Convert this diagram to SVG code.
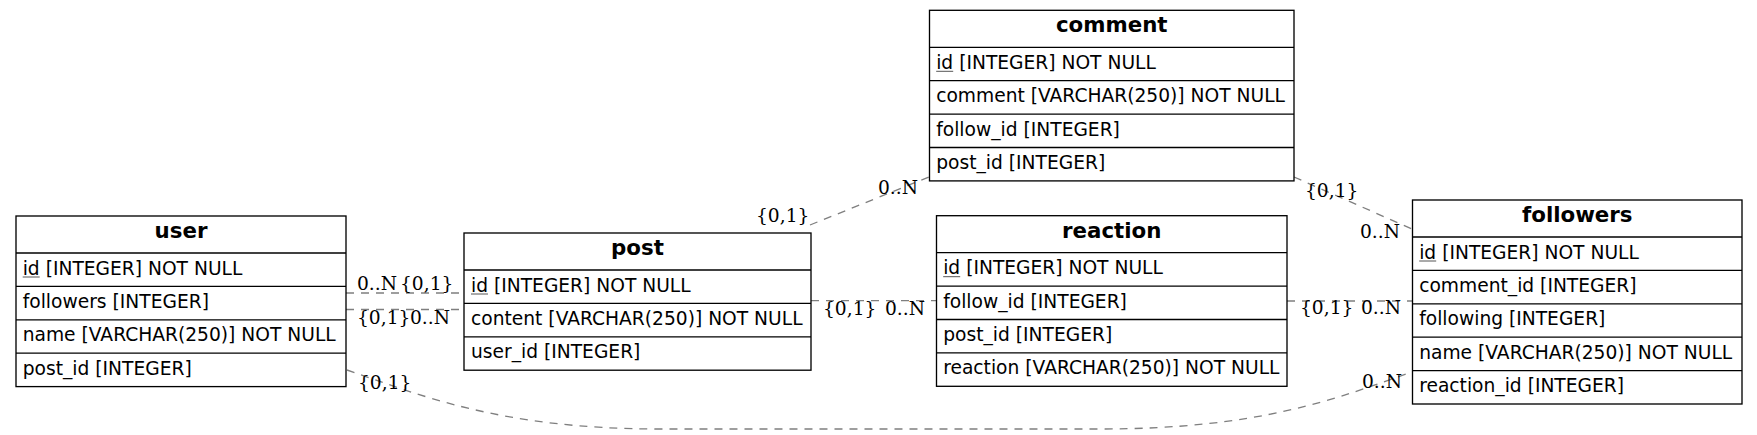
<svg xmlns="http://www.w3.org/2000/svg" width="1757" height="435" viewBox="0 0 1757 435">
<style>
.box{fill:#fff;stroke:#000;stroke-width:1.33}
.sep{stroke:#000;stroke-width:1.33}
.hd{font-family:"DejaVu Sans",sans-serif;font-weight:bold;font-size:21.33px;text-anchor:middle;fill:#000}
.rw{font-family:"DejaVu Sans",sans-serif;font-size:18.67px;fill:#000}
.ul{stroke:#555;stroke-width:1}
.edge{fill:none;stroke:#7f7f7f;stroke-width:1.33;stroke-dasharray:8,7}
.lb{font-family:"DejaVu Serif",serif;font-size:18.67px;fill:#000}
</style>
<rect width="1757" height="435" fill="#fff"/>
<g id="connectors">
<path class="edge" d="M346,293 H464"/>
<path class="edge" d="M346,309.5 H464"/>
<path class="edge" d="M810,225 L929,177"/>
<path class="edge" d="M811,300.7 H936.5"/>
<path class="edge" d="M1287,301 H1412.5"/>
<path class="edge" d="M1294,177 L1412,229"/>
<path class="edge" d="M347,370 C420,395 500,429 660,429 L1100,429 C1260,429 1335,399 1412,372"/>
<text class="lb" x="357" y="290">0..N</text>
<text class="lb" x="400" y="290">{0,1}</text>
<text class="lb" x="357" y="323.5">{0,1}</text>
<text class="lb" x="410" y="323.5">0..N</text>
<text class="lb" x="358" y="389">{0,1}</text>
<text class="lb" x="1362" y="388">0..N</text>
<text class="lb" x="756" y="222">{0,1}</text>
<text class="lb" x="878" y="194">0..N</text>
<text class="lb" x="823" y="315">{0,1}</text>
<text class="lb" x="885" y="315">0..N</text>
<text class="lb" x="1300" y="314">{0,1}</text>
<text class="lb" x="1361" y="314">0..N</text>
<text class="lb" x="1305" y="197">{0,1}</text>
<text class="lb" x="1360" y="238">0..N</text>
</g>
<g id="user">
<rect class="box" x="16" y="216" width="330" height="170.6"/>
<line class="sep" x1="16" y1="253" x2="346" y2="253"/>
<line class="sep" x1="16" y1="286.4" x2="346" y2="286.4"/>
<line class="sep" x1="16" y1="319.8" x2="346" y2="319.8"/>
<line class="sep" x1="16" y1="353.2" x2="346" y2="353.2"/>
<text class="hd" x="181" y="238">user</text>
<text class="rw" x="22.7" y="274.5">id [INTEGER] NOT NULL</text>
<line class="ul" x1="22.7" y1="277" x2="39.7" y2="277"/>
<text class="rw" x="22.7" y="307.9">followers [INTEGER]</text>
<text class="rw" x="22.7" y="341.3">name [VARCHAR(250)] NOT NULL</text>
<text class="rw" x="22.7" y="374.7">post_id [INTEGER]</text>
</g>
<g id="post">
<rect class="box" x="464" y="233" width="347" height="137.2"/>
<line class="sep" x1="464" y1="270" x2="811" y2="270"/>
<line class="sep" x1="464" y1="303.4" x2="811" y2="303.4"/>
<line class="sep" x1="464" y1="336.8" x2="811" y2="336.8"/>
<text class="hd" x="637.5" y="255">post</text>
<text class="rw" x="471" y="291.5">id [INTEGER] NOT NULL</text>
<line class="ul" x1="471" y1="294" x2="488" y2="294"/>
<text class="rw" x="471" y="324.9">content [VARCHAR(250)] NOT NULL</text>
<text class="rw" x="471" y="358.3">user_id [INTEGER]</text>
</g>
<g id="comment">
<rect class="box" x="929.5" y="10.3" width="364.5" height="170.6"/>
<line class="sep" x1="929.5" y1="47.3" x2="1294" y2="47.3"/>
<line class="sep" x1="929.5" y1="80.7" x2="1294" y2="80.7"/>
<line class="sep" x1="929.5" y1="114.1" x2="1294" y2="114.1"/>
<line class="sep" x1="929.5" y1="147.5" x2="1294" y2="147.5"/>
<text class="hd" x="1111.75" y="32.3">comment</text>
<text class="rw" x="936.2" y="68.8">id [INTEGER] NOT NULL</text>
<line class="ul" x1="936.2" y1="71.3" x2="953.2" y2="71.3"/>
<text class="rw" x="936.2" y="102.2">comment [VARCHAR(250)] NOT NULL</text>
<text class="rw" x="936.2" y="135.6">follow_id [INTEGER]</text>
<text class="rw" x="936.2" y="169">post_id [INTEGER]</text>
</g>
<g id="reaction">
<rect class="box" x="936.5" y="215.7" width="350.5" height="170.6"/>
<line class="sep" x1="936.5" y1="252.7" x2="1287" y2="252.7"/>
<line class="sep" x1="936.5" y1="286.1" x2="1287" y2="286.1"/>
<line class="sep" x1="936.5" y1="319.5" x2="1287" y2="319.5"/>
<line class="sep" x1="936.5" y1="352.9" x2="1287" y2="352.9"/>
<text class="hd" x="1111.75" y="237.7">reaction</text>
<text class="rw" x="943.2" y="274.2">id [INTEGER] NOT NULL</text>
<line class="ul" x1="943.2" y1="276.7" x2="960.2" y2="276.7"/>
<text class="rw" x="943.2" y="307.6">follow_id [INTEGER]</text>
<text class="rw" x="943.2" y="341">post_id [INTEGER]</text>
<text class="rw" x="943.2" y="374.4">reaction [VARCHAR(250)] NOT NULL</text>
</g>
<g id="followers">
<rect class="box" x="1412.5" y="200" width="329.5" height="204"/>
<line class="sep" x1="1412.5" y1="237" x2="1742" y2="237"/>
<line class="sep" x1="1412.5" y1="270.4" x2="1742" y2="270.4"/>
<line class="sep" x1="1412.5" y1="303.8" x2="1742" y2="303.8"/>
<line class="sep" x1="1412.5" y1="337.2" x2="1742" y2="337.2"/>
<line class="sep" x1="1412.5" y1="370.6" x2="1742" y2="370.6"/>
<text class="hd" x="1577.25" y="222">followers</text>
<text class="rw" x="1419.2" y="258.5">id [INTEGER] NOT NULL</text>
<line class="ul" x1="1419.2" y1="261" x2="1436.2" y2="261"/>
<text class="rw" x="1419.2" y="291.9">comment_id [INTEGER]</text>
<text class="rw" x="1419.2" y="325.3">following [INTEGER]</text>
<text class="rw" x="1419.2" y="358.7">name [VARCHAR(250)] NOT NULL</text>
<text class="rw" x="1419.2" y="392.1">reaction_id [INTEGER]</text>
</g>
</svg>
